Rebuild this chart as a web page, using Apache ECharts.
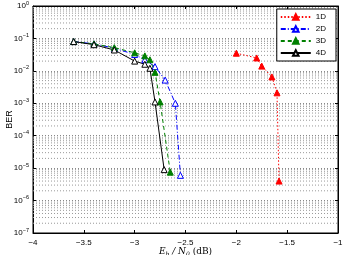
<!DOCTYPE html>
<html><head><meta charset="utf-8">
<script src="https://cdn.jsdelivr.net/npm/echarts@6/dist/echarts.min.js"></script>
<style>html,body{margin:0;padding:0;background:#fff}#c{width:343px;height:255px}</style>
</head><body><div id="c"></div>
<script>
// Data
const x1D = [-2.0, -1.8, -1.75, -1.65, -1.6, -1.58];
const y1D = [0.035, 0.025, 0.014, 0.0065, 0.0021, 4e-6];
const x2D = [-3.6, -3.4, -3.2, -3.0, -2.9, -2.8, -2.7, -2.6, -2.55];
const y2D = [0.08, 0.068, 0.05, 0.032, 0.022, 0.0135, 0.0052, 0.001, 6e-6];
const x3D = [-3.6, -3.4, -3.2, -3.0, -2.9, -2.85, -2.8, -2.75, -2.65];
const y3D = [0.08, 0.068, 0.052, 0.036, 0.029, 0.022, 0.009, 0.0011, 7.5e-6];
const x4D = [-3.6, -3.4, -3.2, -3.0, -2.9, -2.85, -2.8, -2.71];
const y4D = [0.08, 0.064, 0.044, 0.02, 0.016, 0.012, 0.0011, 9e-6];
const xTicks = [-4, -3.5, -3, -2.5, -2, -1.5, -1];
const yExponents = [-7, -6, -5, -4, -3, -2, -1, 0];

const pairs = (xs, ys) => xs.map((x, i) => [x, ys[i]]);
const minorVals = [];
for (let e = -7; e < 0; e++) for (let k = 2; k <= 9; k++) minorVals.push(k * Math.pow(10, e));

const font = 'Liberation Sans';
const fmtMinus = v => String(v).replace('-', '\u2212');
const chart = echarts.init(document.getElementById('c'), null, {renderer: 'canvas'});
const axisCommon = {
  axisLine: {show: true, lineStyle: {color: '#000', width: 1}},
  axisTick: {show: true, inside: true, length: 3, lineStyle: {color: '#000'}},
};
const mkSeries = (name, data, color, lineType, filled) => ({
  name, type: 'line', data, xAxisIndex: 0, yAxisIndex: 0,
  symbol: 'triangle', symbolSize: 6, showSymbol: true,
  lineStyle: {color, width: 1, type: lineType},
  itemStyle: {color: filled ? color : '#fff', borderColor: color, borderWidth: 1},
  emphasis: {disabled: true}, animation: false, z: 5
});
const gridSeries = minorVals.map(v => ({
  type: 'line', data: [[xTicks[0], v], [xTicks[xTicks.length - 1], v]], silent: true,
  symbol: 'none', lineStyle: {color: '#999', width: 1, type: [1, 2]}, z: 1,
  emphasis: {disabled: true}, tooltip: {show: false}
}));
chart.setOption({
  animation: false,
  backgroundColor: '#fff',
  grid: {left: 33, right: 5, top: 6, bottom: 22, show: true, borderColor: '#000', borderWidth: 1,
    outerBoundsMode: 'none', containLabel: false},
  xAxis: [
    Object.assign({type: 'value', min: -4, max: -1, interval: 0.5, position: 'bottom',
      axisLabel: {fontFamily: font, fontSize: 8, color: '#000', margin: 6, formatter: v => fmtMinus(v)},
      splitLine: {show: false},
      name: '{i|E}{s|b}{i| / N}{s|0}{n| (dB)}', nameLocation: 'middle', nameGap: 13,
      nameMoveOverlap: false,
      nameTextStyle: {verticalAlign: 'top', rich: {
        i: {fontFamily: 'DejaVu Serif', fontStyle: 'italic', fontSize: 9, color: '#000'},
        s: {fontFamily: 'DejaVu Serif', fontStyle: 'italic', fontSize: 6, color: '#000', padding: [5, 0, 0, 0]},
        n: {fontFamily: 'DejaVu Serif', fontSize: 9, color: '#000'}
      }}
    }, axisCommon),
    Object.assign({type: 'value', min: -4, max: -1, interval: 0.5, position: 'top',
      axisLabel: {show: false}, splitLine: {show: false}}, axisCommon)
  ],
  yAxis: [
    Object.assign({type: 'log', logBase: 10, min: 1e-7, max: 1, position: 'left',
      axisLabel: {fontFamily: font, fontSize: 8, color: '#000', margin: 4,
        formatter: v => '{b|10}{s|' + fmtMinus(Math.round(Math.log10(v))) + '}',
        rich: {b: {fontFamily: font, fontSize: 8, color: '#000'},
               s: {fontFamily: font, fontSize: 5.5, color: '#000', padding: [0, 0, 6, 0]}}},
      splitLine: {show: true, lineStyle: {color: '#888', width: 1, type: [1, 2]}},
      name: 'BER', nameLocation: 'middle', nameGap: 19, nameRotate: 90,
      nameMoveOverlap: false,
      nameTextStyle: {fontFamily: font, fontSize: 9, color: '#000'}
    }, axisCommon),
    Object.assign({type: 'log', logBase: 10, min: 1e-7, max: 1, position: 'right',
      axisLabel: {show: false}, splitLine: {show: false}}, axisCommon)
  ],
  legend: {
    data: ['1D', '2D', '3D', '4D'],
    orient: 'vertical', right: 7, top: 9,
    backgroundColor: '#fff', borderColor: '#000', borderWidth: 1,
    padding: [4, 10, 4, 3], itemGap: 4, itemWidth: 30, itemHeight: 7,
    textStyle: {fontFamily: font, fontSize: 8, color: '#000'},
    selectedMode: false
  },
  series: gridSeries.concat([
    mkSeries('1D', pairs(x1D, y1D), '#ff0000', [1.5, 2], true),
    mkSeries('2D', pairs(x2D, y2D), '#0000ff', [5, 2, 1, 2], false),
    mkSeries('3D', pairs(x3D, y3D), '#008000', [4, 3], true),
    mkSeries('4D', pairs(x4D, y4D), '#000000', 'solid', false)
  ])
});
</script></body></html>
